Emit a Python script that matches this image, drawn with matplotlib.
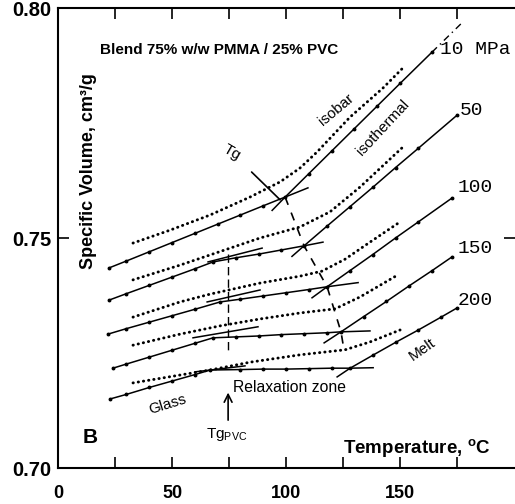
import numpy as np
import matplotlib
matplotlib.use("Agg")
import matplotlib.pyplot as plt
from matplotlib.ticker import FixedLocator

plt.rcParams['font.family'] = ['Liberation Sans', 'DejaVu Sans']
plt.rcParams['mathtext.fontset'] = 'custom'
plt.rcParams['mathtext.rm'] = 'Liberation Sans'
plt.rcParams['mathtext.bf'] = 'Liberation Sans:bold'

# pressures (MPa)
pressures = [10, 50, 100, 150, 200]
p_labels = ['10 MPa', '50', '100', '150', '200']

# isobar (dotted) curves
isobar_T = [
    [32.9, 49.1, 66.7, 84.2, 97.4, 106.1, 113.6, 128.1, 142.5, 151.3],
    [32.9, 53.5, 88.6, 106.1, 119.3, 132.5, 151.3],
    [32.9, 53.5, 66.7, 88.6, 106.1, 115.8, 125.9, 136.8, 150.0],
    [32.9, 53.5, 71.1, 88.6, 106.1, 121.5, 132.5, 149.1],
    [32.9, 66.7, 84.2, 106.1, 125.9, 136.8, 150.0],
]
isobar_V = [
    [0.7489, 0.7517, 0.7550, 0.7589, 0.7622, 0.7652, 0.7687, 0.7763, 0.7826, 0.7870],
    [0.7409, 0.7441, 0.7500, 0.7524, 0.7557, 0.7611, 0.7698],
    [0.7328, 0.7361, 0.7378, 0.7402, 0.7417, 0.7428, 0.7454, 0.7491, 0.7535],
    [0.7267, 0.7291, 0.7309, 0.7324, 0.7337, 0.7346, 0.7372, 0.7420],
    [0.7185, 0.7213, 0.7230, 0.7246, 0.7257, 0.7274, 0.7300],
]

# isothermal (solid) data
iso_T = [
    [22.4, 30, 40, 50, 60, 70, 80, 90, 99.6, 110, 120, 130, 140, 150, 164],
    [22.4, 30, 40, 50, 60, 68, 78, 88, 98, 107.9, 118, 128, 138, 148, 158, 175],
    [21.9, 30, 40, 50, 60, 71.1, 80, 90, 100, 110, 118, 128, 138, 148, 158, 172.8],
    [24.1, 30, 40, 50, 60, 68, 78, 88, 98, 108, 118, 124.1, 134, 144, 154, 164, 172.8],
    [22.8, 30, 40, 50, 60, 66.7, 80, 90, 100, 110, 120, 128.1, 138, 148, 158, 168, 175],
]
iso_V = [
    [0.7435, 0.7450, 0.7470, 0.7490, 0.7510, 0.7530, 0.7550, 0.7570, 0.7589, 0.7640, 0.7689, 0.7738, 0.7787, 0.7836, 0.7904],
    [0.7365, 0.7379, 0.7397, 0.7415, 0.7433, 0.7448, 0.7457, 0.7465, 0.7474, 0.7483, 0.7526, 0.7568, 0.7610, 0.7653, 0.7695, 0.7767],
    [0.7291, 0.7303, 0.7317, 0.7331, 0.7345, 0.7361, 0.7367, 0.7374, 0.7381, 0.7388, 0.7394, 0.7429, 0.7464, 0.7500, 0.7535, 0.7587],
    [0.7217, 0.7226, 0.7241, 0.7256, 0.7271, 0.7283, 0.7285, 0.7287, 0.7290, 0.7292, 0.7294, 0.7296, 0.7329, 0.7362, 0.7396, 0.7429, 0.7459],
    [0.7150, 0.7160, 0.7175, 0.7189, 0.7203, 0.7213, 0.7214, 0.7215, 0.7215, 0.7216, 0.7217, 0.7217, 0.7245, 0.7273, 0.7300, 0.7328, 0.7348],
]

# construction lines (extensions / tangents)
ext_T = [[99.6, 109.6], [93.9, 99.6],
         [107.9, 116.2], [102.6, 107.9], [65.8, 89.5],
         [118.0, 131.6], [111.4, 118.0], [65.4, 88.6],
         [124.1, 136.8], [116.7, 124.1], [59.2, 87.7],
         [128.1, 138.2], [122.4, 128.1], [60.1, 82.0]]
ext_V = [[0.7589, 0.7609], [0.7560, 0.7589],
         [0.7483, 0.7491], [0.7460, 0.7483], [0.7448, 0.7478],
         [0.7394, 0.7403], [0.7370, 0.7394], [0.7361, 0.7387],
         [0.7296, 0.7298], [0.7272, 0.7296], [0.7283, 0.7307],
         [0.7217, 0.7218], [0.7198, 0.7217], [0.7209, 0.7222]]

# 10 MPa extrapolation
extra_T = [164, 177.6]
extra_V = [0.7904, 0.7970]

# Tg locus
tg_T = [99.6, 107.9, 118.0, 124.1, 125.4]
tg_V = [0.7589, 0.7483, 0.7394, 0.7296, 0.7257]

# Tg of PVC
tgpvc_T = 74.6
tgpvc_V = [0.7465, 0.7248]

label_T = [167.5, 176.3, 175.4, 175.4, 175.4]
label_V = [0.7909, 0.7778, 0.7609, 0.7478, 0.7365]

fig = plt.figure(figsize=(5.15, 5.04), dpi=100)
ax = fig.add_axes([58/515, 36/504, 457/515, 460/504])

for i in range(len(pressures)):
    ax.plot(isobar_T[i], isobar_V[i], color='black', linewidth=2.1,
            linestyle=(0, (0.1, 1.7)), dash_capstyle='round')
    ax.plot(iso_T[i], iso_V[i], color='black', linewidth=1.1,
            marker='o', markersize=1.8)
    ax.text(label_T[i], label_V[i], p_labels[i], family='Liberation Mono',
            fontsize=14, ha='left', va='center')

for i in range(len(ext_T)):
    ax.plot(ext_T[i], ext_V[i], color='black', linewidth=1.1)

ax.plot(extra_T, extra_V, color='black', linewidth=1.0, linestyle=(0, (5, 3, 1, 3)))
ax.plot(tg_T, tg_V, color='black', linewidth=1.2, linestyle=(0, (5, 5)))
ax.plot([tgpvc_T, tgpvc_T], tgpvc_V, color='black', linewidth=1.0, linestyle=(0, (6, 3)))

# Tg pointer
ax.annotate('Tg', xy=(97.4, 0.7583), xytext=(76.3, 0.7685), fontsize=11,
            ha='center', va='center', rotation=-30,
            arrowprops=dict(arrowstyle='-', color='black', linewidth=1.2, shrinkA=6, shrinkB=0))

# Tg PVC arrow
ax.annotate('', xy=(74.6, 0.7170), xytext=(74.6, 0.7098),
            arrowprops=dict(arrowstyle='->', color='black', linewidth=1.2, mutation_scale=14))
ax.text(74.0, 0.7072, 'Tg$_{\\mathrm{PVC}}$', fontsize=11, ha='center', va='center')

ax.text(76.8, 0.7174, 'Relaxation zone', fontsize=11.3, ha='left', va='center')
ax.text(48.2, 0.7137, 'Glass', fontsize=11, ha='center', va='center', rotation=17)
ax.text(159.6, 0.7257, 'Melt', fontsize=11, ha='center', va='center', rotation=35)
ax.text(121.9, 0.7778, 'isobar', fontsize=11, ha='center', va='center', rotation=40)
ax.text(142.5, 0.7739, 'isothermal', fontsize=11, ha='center', va='center', rotation=47)
ax.text(18.4, 0.7909, 'Blend 75% w/w PMMA / 25% PVC', fontsize=11, fontweight='bold',
        ha='left', va='center')
ax.text(14, 0.7067, 'B', fontsize=15, fontweight='bold', ha='center', va='center')
ax.text(13.2, 0.7645, 'Specific Volume, cm³/g', fontsize=13, fontweight='bold',
        rotation=90, ha='center', va='center')
ax.text(157.5, 0.7043, 'Temperature, $^{\\mathbf{o}}$C', fontsize=13.5, fontweight='bold',
        ha='center', va='center')

ax.set_xlim(0, 200.4)
ax.set_ylim(0.70, 0.80)
ax.xaxis.set_major_locator(FixedLocator([0, 50, 100, 150]))
ax.xaxis.set_minor_locator(FixedLocator([25, 75, 125, 175]))
ax.yaxis.set_major_locator(FixedLocator([0.70, 0.75, 0.80]))
ax.set_xticklabels(['0', '50', '100', '150'], fontweight='bold', fontsize=13)
ax.set_yticklabels(['0.70', '0.75', '0.80'], fontweight='bold', fontsize=14.5)
ax.tick_params(which='both', direction='in', top=True, right=True, length=8, width=1.2)
ax.tick_params(axis='x', pad=12)
ax.tick_params(axis='y', pad=5)
ax.spines['right'].set_visible(False)
for s in ['left', 'top', 'bottom']:
    ax.spines[s].set_linewidth(1.5)

plt.savefig('out.png', dpi=100)
